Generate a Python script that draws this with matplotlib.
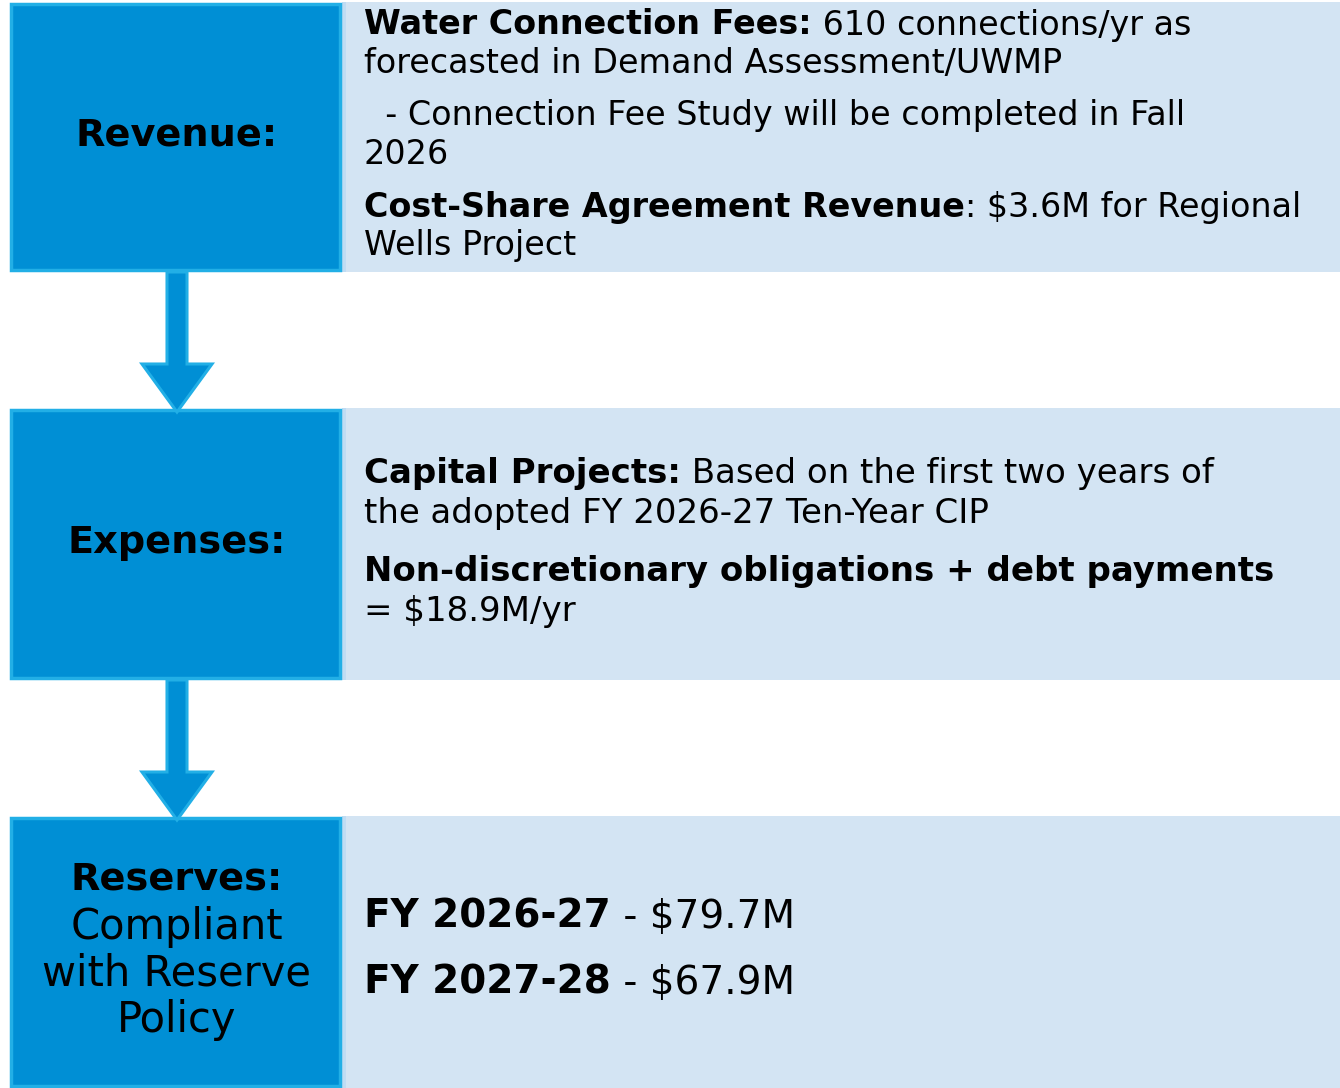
import matplotlib.pyplot as plt
from matplotlib.patches import Rectangle, Polygon

# text content
left_labels = ["Revenue:", "Expenses:", "Reserves:"]
reserve_note = ["Compliant", "with Reserve", "Policy"]

# each line: list of (text, bold)
revenue_lines = [
    [("Water Connection Fees:", True), (" 610 connections/yr as", False)],
    [("forecasted in Demand Assessment/UWMP", False)],
    [("  - Connection Fee Study will be completed in Fall", False)],
    [("2026", False)],
    [("Cost-Share Agreement Revenue", True), (": $3.6M for Regional", False)],
    [("Wells Project", False)],
]
revenue_y = [25, 63, 116, 154, 207, 245]

expense_lines = [
    [("Capital Projects:", True), (" Based on the first two years of", False)],
    [("the adopted FY 2026-27 Ten-Year CIP", False)],
    [("Non-discretionary obligations + debt payments", True)],
    [("= $18.9M/yr", False)],
]
expense_y = [473, 514, 571, 611]

reserve_lines = [
    [("FY 2026-27", True), (" - $79.7M", False)],
    [("FY 2027-28", True), (" - $67.9M", False)],
]
reserve_y = [917, 983]

row_top = [2, 408, 816]
row_bot = [272, 680, 1088]

DARK = "#008fd5"
EDGE = "#22afe6"
LIGHT = "#d3e4f3"
FONT = "DejaVu Sans"

fig = plt.figure(figsize=(13.4, 10.88), dpi=100)
ax = fig.add_axes([0, 0, 1, 1])
ax.set_xlim(0, 1340)
ax.set_ylim(1088, 0)
ax.axis("off")
renderer = fig.canvas.get_renderer()

for top, bot in zip(row_top, row_bot):
    ax.add_patch(Rectangle((342, top), 998, bot - top, facecolor=LIGHT, edgecolor="none"))
    ax.add_patch(Rectangle((342, top), 4, bot - top, facecolor="#bfdcf3", edgecolor="none"))
    ax.add_patch(Rectangle((11, top + 2), 329, bot - top - 4, facecolor=DARK,
                           edgecolor=EDGE, linewidth=2.5))

# arrows between the rows
for y0, y1 in [(272, 412), (680, 820)]:
    neck = y1 - 48
    pts = [(167, y0), (187, y0), (187, neck), (212, neck), (177, y1),
           (142, neck), (167, neck)]
    ax.add_patch(Polygon(pts, closed=True, facecolor=DARK, edgecolor=EDGE, linewidth=2.2))


def draw_lines(lines, ys, size, x0=364):
    for parts, y in zip(lines, ys):
        x = x0
        for txt, bold in parts:
            t = ax.text(x, y, txt, fontsize=size, family=FONT, va="center", ha="left",
                        fontweight="bold" if bold else "normal", color="black")
            x += t.get_window_extent(renderer).width


draw_lines(revenue_lines, revenue_y, 24)
draw_lines(expense_lines, expense_y, 24.5)
draw_lines(reserve_lines, reserve_y, 28)

for txt, y in zip(left_labels, [135, 543, 880]):
    ax.text(177, y, txt, fontsize=27.5, family=FONT, fontweight="bold",
            ha="center", va="center")
for txt, y in zip(reserve_note, [927, 973, 1020]):
    ax.text(177, y, txt, fontsize=30, family=FONT, ha="center", va="center")

fig.savefig("out.png", dpi=100)
